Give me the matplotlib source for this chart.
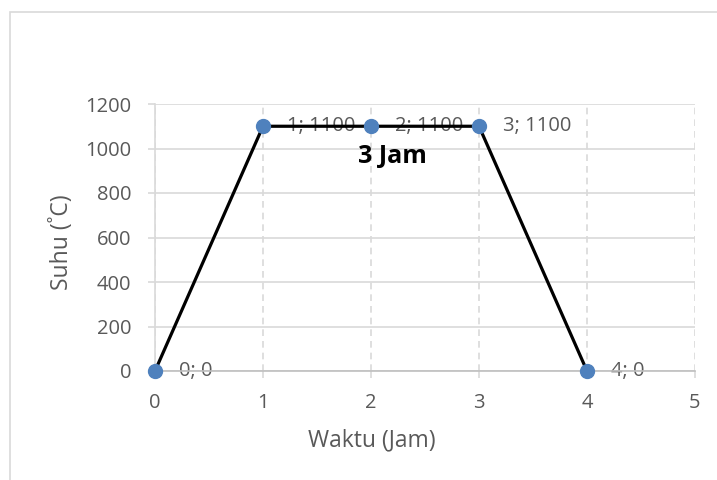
import matplotlib.pyplot as plt
from matplotlib.patches import Rectangle

# data
waktu = [0, 1, 2, 3, 4]
suhu = [0, 1100, 1100, 1100, 0]
x_ticks = [0, 1, 2, 3, 4, 5]
y_ticks = [0, 200, 400, 600, 800, 1000, 1200]

plt.rcParams['font.family'] = ['Open Sans', 'DejaVu Sans']
grey = '#595959'
grid_c = '#D9D9D9'

fig = plt.figure(figsize=(7.17, 4.8), dpi=100)
ax = fig.add_axes([155/717, 1 - 371/480, 540/717, 267/480])

# chart border like Excel
fig.patches.append(Rectangle((10/717, -0.1), 1.0, 1 - 12/480 + 0.1,
                             transform=fig.transFigure, fill=False,
                             edgecolor=grid_c, linewidth=1.2))

ax.plot(waktu, suhu, color='black', linewidth=2.3, zorder=3, clip_on=False)
ax.plot(waktu, suhu, 'o', color='#4F81BD', markersize=10, zorder=4, clip_on=False)

for x, y in zip(waktu, suhu):
    ax.annotate(f'{x}; {y}', (x, y), xytext=(17, 0), textcoords='offset points',
                va='center', ha='left', fontsize=14.5, color=grey, zorder=2)

ax.text(2.2, 965, '3 Jam', fontsize=18, fontweight='bold', color='black',
        ha='center', va='center', zorder=5)

ax.set_xlim(0, 5)
ax.set_ylim(0, 1200)
ax.set_xticks(x_ticks)
ax.set_yticks(y_ticks)
ax.grid(axis='y', color=grid_c, linewidth=1.2, linestyle='-')
ax.grid(axis='x', color=grid_c, linewidth=1.2, linestyle=(0, (4, 3)))
ax.set_axisbelow(True)

for s in ['top', 'right']:
    ax.spines[s].set_visible(False)
ax.spines['left'].set_color(grid_c)
ax.spines['bottom'].set_color('#BFBFBF')
ax.spines['left'].set_linewidth(1.2)
ax.spines['bottom'].set_linewidth(1.2)
ax.tick_params(axis='both', colors=grid_c, labelcolor=grey, labelsize=14.5,
               length=5, width=1.2)
ax.tick_params(axis='y', pad=12)
ax.tick_params(axis='x', pad=11)

# axis titles (Excel puts them a bit off the plot-area centre)
fig.text(372/717, 1 - 440/480, 'Waktu (Jam)', fontsize=16.5, color=grey,
         ha='center', va='center')
fig.text(62/717, 1 - 242/480, 'Suhu (˚C)', fontsize=16.5, color=grey,
         ha='center', va='center', rotation=90)

fig.savefig('out.png', dpi=100)
